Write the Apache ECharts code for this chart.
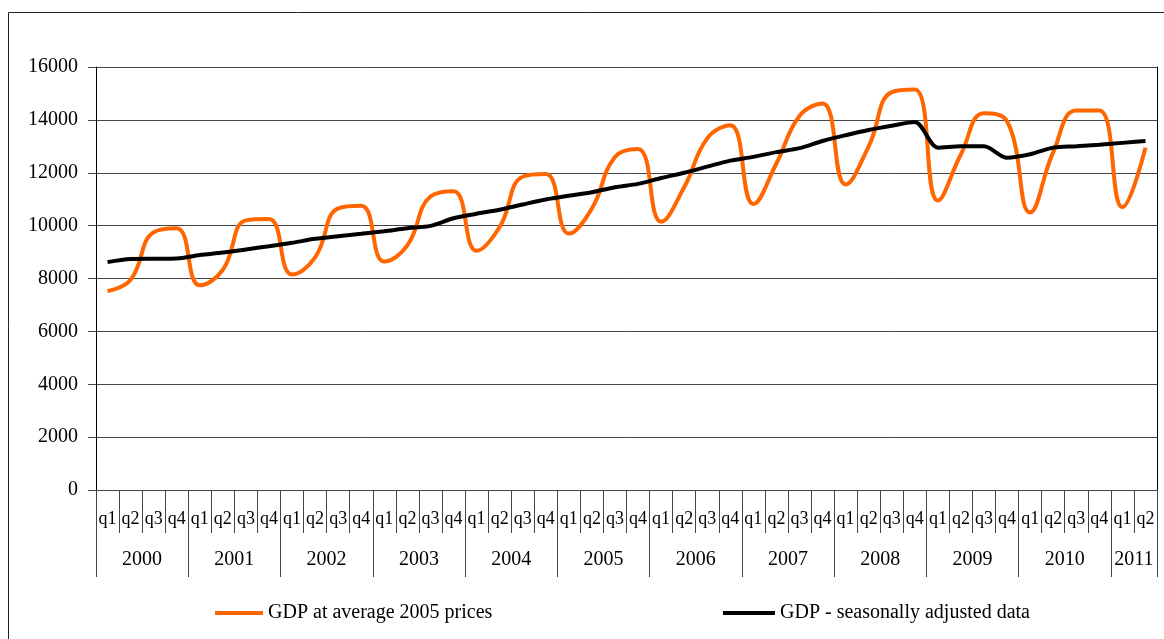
<!DOCTYPE html>
<html>
<head>
<meta charset="utf-8">
<style>
  html, body { margin: 0; padding: 0; background: #fff; }
  #chart { width: 1164px; height: 639px; }
</style>
<script src="https://cdn.jsdelivr.net/npm/echarts@6/dist/echarts.min.js"></script>
</head>
<body>
<div id="chart"></div>
<script>
var years = ['2000', '2001', '2002', '2003', '2004', '2005', '2006', '2007', '2008', '2009', '2010', '2011'];
var quartersPerYear = [4, 4, 4, 4, 4, 4, 4, 4, 4, 4, 4, 2];
var quarterNames = ['q1', 'q2', 'q3', 'q4'];

// GDP at average 2005 prices, one value per quarter
var gdp = [
  7530, 7950, 9750, 9900,
  7740, 8330, 10200, 10250,
  8150, 8800, 10650, 10750,
  8640, 9250, 11100, 11300,
  9050, 9950, 11850, 11950,
  9700, 10650, 12600, 12900,
  10150, 11450, 13300, 13800,
  10820, 12350, 14150, 14620,
  11560, 13000, 15050, 15150,
  10950, 12700, 14250, 13950,
  10500, 12780, 14350, 14350,
  10700, 12950
];

// GDP - seasonally adjusted data
var gdpSa = [
  8620, 8740, 8750, 8760,
  8890, 8980, 9100, 9220,
  9350, 9500, 9600, 9690,
  9790, 9900, 9990, 10280,
  10450, 10600, 10800, 10990,
  11130, 11260, 11450, 11580,
  11800, 12000, 12230, 12460,
  12600, 12780, 12930, 13200,
  13420, 13620, 13780, 13920,
  12950, 13000, 13000, 12570,
  12700, 12950, 13000, 13060,
  13130, 13200
];

var yMin = 0, yMax = 16000, yStep = 2000;
var seriesNames = ['GDP at average 2005 prices', 'GDP - seasonally adjusted data'];

(function() {
  var font = 'Liberation Serif, Times New Roman, serif';
  var ink = '#000';
  var grey = '#444';

  var cats = [];
  var yearLabelIdx = {};
  years.forEach(function(y, i) {
    var start = cats.length;
    for (var q = 0; q < quartersPerYear[i]; q++) cats.push(y + '-' + quarterNames[q]);
    yearLabelIdx[start + Math.floor((quartersPerYear[i] - 1) / 2)] = true;
  });

  var chart = echarts.init(document.getElementById('chart'), null, { renderer: 'canvas' });
  chart.setOption({
    animation: false,
    backgroundColor: '#fff',
    graphic: [{
      type: 'rect',
      shape: { x: 8.5, y: 12.5, width: 1180, height: 660 },
      style: { fill: 'none', stroke: '#222', lineWidth: 1 },
      silent: true
    }],
    grid: { left: 96, right: 7, top: 67, bottom: 149, containLabel: false },
    legend: [{
      data: [seriesNames[0]],
      left: 210, top: 598,
      icon: 'rect', itemWidth: 48, itemHeight: 4,
      textStyle: { color: ink, fontFamily: font, fontSize: 20 }
    }, {
      data: [seriesNames[1]],
      left: 718, top: 598,
      icon: 'rect', itemWidth: 52, itemHeight: 4,
      textStyle: { color: ink, fontFamily: font, fontSize: 20 }
    }],
    xAxis: [{
      type: 'category',
      data: cats,
      position: 'bottom',
      offset: 0,
      axisLine: { show: true, lineStyle: { color: grey, width: 1 } },
      axisTick: { show: true, interval: 0, length: 43, lineStyle: { color: grey } },
      axisLabel: {
        interval: 0, margin: 20, color: ink, fontFamily: font, fontSize: 18,
        formatter: function(v) { return v.split('-')[1]; }
      },
      splitLine: { show: false }
    }, {
      type: 'category',
      data: cats,
      position: 'bottom',
      offset: 0,
      axisLine: { show: false },
      axisTick: {
        show: true, length: 87, lineStyle: { color: grey },
        interval: function(i, v) { return v.split('-')[1] === 'q1'; }
      },
      axisLabel: {
        margin: 60, color: ink, fontFamily: font, fontSize: 20,
        padding: [0, 0, 0, 23],
        interval: function(i) { return !!yearLabelIdx[i]; },
        formatter: function(v) { return v.split('-')[0]; }
      },
      splitLine: { show: false }
    }],
    yAxis: [{
      type: 'value',
      min: yMin, max: yMax, interval: yStep,
      axisLine: { show: true, lineStyle: { color: ink, width: 1 } },
      axisTick: { show: true, length: 8, lineStyle: { color: grey } },
      axisLabel: {
        margin: 18, color: ink, fontFamily: font, fontSize: 20,
        formatter: function(v) { return String(v); }
      },
      splitLine: { show: true, lineStyle: { color: grey, width: 1 } }
    }, {
      type: 'value',
      position: 'right',
      min: yMin, max: yMax, interval: yStep,
      axisLine: { show: true, lineStyle: { color: ink, width: 1 } },
      axisTick: { show: false },
      axisLabel: { show: false },
      splitLine: { show: false }
    }],
    series: [{
      name: seriesNames[0],
      type: 'line',
      xAxisIndex: 0,
      yAxisIndex: 0,
      data: gdp,
      smooth: 0.45,
      symbol: 'none',
      color: '#ff6600',
      lineStyle: { color: '#ff6600', width: 4 }
    }, {
      name: seriesNames[1],
      type: 'line',
      xAxisIndex: 0,
      yAxisIndex: 0,
      data: gdpSa,
      smooth: 0.3,
      symbol: 'none',
      color: '#000',
      lineStyle: { color: '#000', width: 4 }
    }]
  });

  window.addEventListener('resize', function() { chart.resize(); });
})();
</script>
</body>
</html>
